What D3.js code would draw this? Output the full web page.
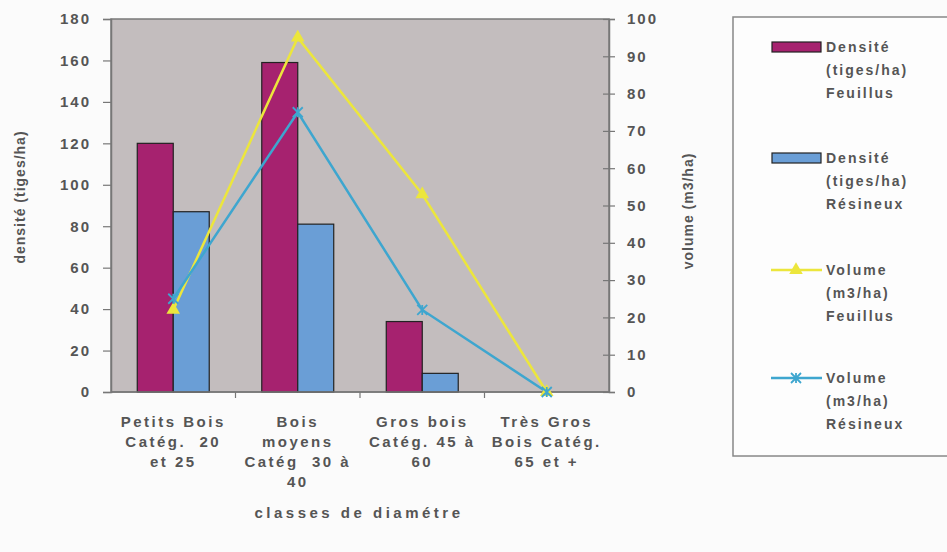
<!DOCTYPE html>
<html>
<head>
<meta charset="utf-8">
<script src="https://cdn.jsdelivr.net/npm/d3@7"></script>
<style>
  body { margin: 0; background: #fbfbfb; }
  text { font-family: "Liberation Sans", Arial, sans-serif; fill: #555; font-weight: bold; white-space: pre; }
</style>
</head>
<body>
<div id="chart"></div>
<script>
// data
var categories = ["Petits Bois", "Bois moyens", "Gros bois", "Très Gros Bois"];
var catLines = [
  ["Petits Bois", "Catég.  20", "et 25"],
  ["Bois", "moyens", "Catég  30 à", "40"],
  ["Gros bois", "Catég. 45 à", "60"],
  ["Très Gros", "Bois Catég.", "65 et +"]
];
var densFeuillus = [120, 159, 34, 0];
var densResineux = [87, 81, 9, 0];
var volFeuillus = [22, 95, 53, 0];
var volResineux = [25, 75, 22, 0];
var leftTicks = [0, 20, 40, 60, 80, 100, 120, 140, 160, 180];
var rightTicks = [0, 10, 20, 30, 40, 50, 60, 70, 80, 90, 100];

var W = 947, H = 552;
var plot = {left: 111, right: 609, top: 19, bottom: 392};

var svg = d3.select("#chart").append("svg")
  .attr("width", W).attr("height", H);

var x = d3.scaleBand().domain(categories).range([plot.left, plot.right]);
var xs = d3.scaleBand().domain(["f", "r"]).range([0, x.bandwidth()]).paddingOuter(0.73);
var yL = d3.scaleLinear().domain([0, 180]).range([plot.bottom, plot.top]);
var yR = d3.scaleLinear().domain([0, 100]).range([plot.bottom, plot.top]);

// plot area
svg.append("rect")
  .attr("x", plot.left).attr("y", plot.top)
  .attr("width", plot.right - plot.left).attr("height", plot.bottom - plot.top)
  .attr("fill", "#c3bdbe").attr("stroke", "#7a7a7a").attr("stroke-width", 1.5);

// bars
var bars = svg.append("g");
[["f", densFeuillus, "#a6226f"], ["r", densResineux, "#6a9ed6"]].forEach(function(s) {
  bars.selectAll(null)
    .data(s[1])
    .enter().append("rect")
    .attr("x", function(d, i) { return x(categories[i]) + xs(s[0]); })
    .attr("y", function(d) { return yL(d); })
    .attr("width", xs.bandwidth())
    .attr("height", function(d) { return yL(0) - yL(d); })
    .attr("fill", s[2])
    .attr("stroke", "#222").attr("stroke-width", 1.2);
});

// axes
var axL = svg.append("g")
  .attr("transform", "translate(" + plot.left + ",0)")
  .call(d3.axisLeft(yL).tickValues(leftTicks).tickSize(8).tickPadding(12));
var axR = svg.append("g")
  .attr("transform", "translate(" + plot.right + ",0)")
  .call(d3.axisRight(yR).tickValues(rightTicks).tickSize(6).tickPadding(12));
axR.selectAll(".tick line").attr("x1", -6);
var axB = svg.append("g")
  .attr("transform", "translate(0," + plot.bottom + ")")
  .call(d3.axisBottom(x).tickSize(0).tickFormat(""));
[axL, axR, axB].forEach(function(a) {
  a.select(".domain").attr("stroke", "#777").attr("stroke-width", 1.5);
  a.selectAll(".tick line").attr("stroke", "#777").attr("stroke-width", 1.2);
  a.selectAll("text").attr("font-size", 15).attr("letter-spacing", 2)
    .attr("fill", "#555").attr("font-family", "Liberation Sans, Arial, sans-serif");
});
axB.select(".domain").attr("d", "M" + plot.left + ",0H" + plot.right);
// category separator ticks
svg.append("g").selectAll("line")
  .data(categories.slice(1))
  .enter().append("line")
  .attr("x1", function(d) { return x(d); }).attr("x2", function(d) { return x(d); })
  .attr("y1", plot.bottom).attr("y2", plot.bottom + 6)
  .attr("stroke", "#777").attr("stroke-width", 1.2);

// category labels
var labs = svg.append("g");
catLines.forEach(function(lines, i) {
  var t = labs.append("text")
    .attr("x", x(categories[i]) + x.bandwidth() / 2)
    .attr("y", 427)
    .attr("text-anchor", "middle")
    .attr("font-size", 15).attr("letter-spacing", 2.5);
  lines.forEach(function(l, j) {
    t.append("tspan").attr("x", x(categories[i]) + x.bandwidth() / 2)
      .attr("dy", j === 0 ? 0 : 20).text(l);
  });
});

// lines
var cx = function(d, i) { return x(categories[i]) + x.bandwidth() / 2; };
var line = function(scale) {
  return d3.line().x(cx).y(function(d) { return scale(d); });
};
svg.append("path").datum(volFeuillus)
  .attr("d", line(yR)).attr("fill", "none")
  .attr("stroke", "#ece63c").attr("stroke-width", 2.5);
svg.append("path").datum(volResineux)
  .attr("d", line(yR)).attr("fill", "none")
  .attr("stroke", "#3ea6cf").attr("stroke-width", 2.5);

var tri = d3.symbol().type(d3.symbolTriangle).size(80);
svg.append("g").selectAll("path")
  .data(volFeuillus).enter().append("path")
  .attr("d", tri)
  .attr("transform", function(d, i) { return "translate(" + cx(d, i) + "," + yR(d) + ")"; })
  .attr("fill", "#ece63c");

function star(g, px, py, r, col) {
  g.append("path")
    .attr("d", "M" + (px - r) + "," + (py - r) + "L" + (px + r) + "," + (py + r) +
               "M" + (px - r) + "," + (py + r) + "L" + (px + r) + "," + (py - r) +
               "M" + px + "," + (py - r) + "L" + px + "," + (py + r))
    .attr("stroke", col).attr("stroke-width", 1.8).attr("fill", "none");
}
var stars = svg.append("g");
volResineux.forEach(function(d, i) { star(stars, cx(d, i), yR(d), 5, "#3ea6cf"); });

// axis titles
svg.append("text")
  .attr("transform", "translate(25,197) rotate(-90)")
  .attr("text-anchor", "middle").attr("font-size", 14).attr("letter-spacing", 1)
  .text("densité (tiges/ha)");
svg.append("text")
  .attr("transform", "translate(693,211) rotate(-90)")
  .attr("text-anchor", "middle").attr("font-size", 14).attr("letter-spacing", 1)
  .text("volume (m3/ha)");
svg.append("text")
  .attr("x", 359).attr("y", 518)
  .attr("text-anchor", "middle").attr("font-size", 15).attr("letter-spacing", 3.5)
  .text("classes de diamétre");

// legend
var leg = svg.append("g");
leg.append("rect")
  .attr("x", 733).attr("y", 17).attr("width", 240).attr("height", 439)
  .attr("fill", "#fdfdfd").attr("stroke", "#888").attr("stroke-width", 1.5);
var legItems = [
  {type: "bar", color: "#a6226f", y: 47, lines: ["Densité", "(tiges/ha)", "Feuillus"]},
  {type: "bar", color: "#6a9ed6", y: 158, lines: ["Densité", "(tiges/ha)", "Résineux"]},
  {type: "tri", color: "#ece63c", y: 270, lines: ["Volume", "(m3/ha)", "Feuillus"]},
  {type: "star", color: "#3ea6cf", y: 378, lines: ["Volume", "(m3/ha)", "Résineux"]}
];
legItems.forEach(function(it) {
  if (it.type === "bar") {
    leg.append("rect").attr("x", 772).attr("y", it.y - 5).attr("width", 49).attr("height", 10)
      .attr("fill", it.color).attr("stroke", "#222").attr("stroke-width", 1.2);
  } else {
    leg.append("line").attr("x1", 771).attr("x2", 822).attr("y1", it.y).attr("y2", it.y)
      .attr("stroke", it.color).attr("stroke-width", 2.5);
    if (it.type === "tri") {
      leg.append("path").attr("d", tri)
        .attr("transform", "translate(796," + it.y + ")").attr("fill", it.color);
    } else {
      star(leg, 796, it.y, 5, it.color);
    }
  }
  var t = leg.append("text").attr("x", 826).attr("y", it.y + 5)
    .attr("font-size", 14).attr("letter-spacing", 2);
  it.lines.forEach(function(l, j) {
    t.append("tspan").attr("x", 826).attr("dy", j === 0 ? 0 : 23).text(l);
  });
});
</script>
</body>
</html>
